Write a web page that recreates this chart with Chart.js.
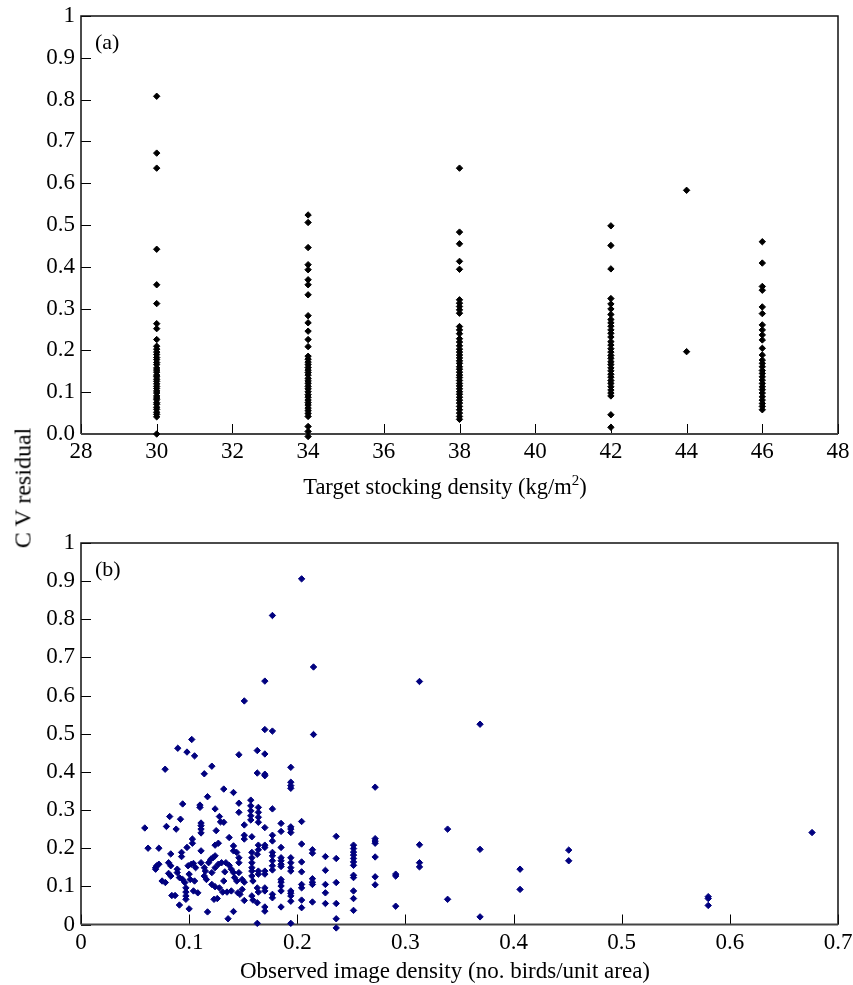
<!DOCTYPE html>
<html><head><meta charset="utf-8">
<script src="https://cdn.jsdelivr.net/npm/chart.js@4"></script>
<style>
html,body{margin:0;padding:0;background:#fff;}
body{width:853px;height:985px;position:relative;overflow:hidden;}
#wa{position:absolute;left:0;top:0;width:853px;height:500px;}
#wb{position:absolute;left:0;top:500px;width:853px;height:485px;}
#ylab{position:absolute;left:23px;top:488px;transform:translate(-50%,-50%) rotate(-90deg);font:24px "Liberation Serif";white-space:nowrap;color:#000;}
</style></head>
<body>
<div id="wa"><canvas id="ca" width="853" height="500"></canvas></div>
<div id="wb"><canvas id="cb" width="853" height="485"></canvas></div>
<div id="ylab">C V residual</div>
<script>
// ---- Panel (a): CV residual by target stocking density ----
const stockingDensities = [30, 34, 38, 42, 44, 46];
const cv30 = [0.808, 0.672, 0.636, 0.442, 0.357, 0.312, 0.264, 0.252, 0.226, 0.21, 0.203, 0.196, 0.19, 0.183, 0.178, 0.171, 0.166, 0.158, 0.153, 0.148, 0.141, 0.137, 0.131, 0.126, 0.12, 0.114, 0.109, 0.103, 0.098, 0.091, 0.086, 0.082, 0.075, 0.071, 0.064, 0.059, 0.052, 0.047, 0.041, 0.0];
const cv34 = [0.524, 0.506, 0.446, 0.405, 0.393, 0.369, 0.357, 0.333, 0.283, 0.266, 0.246, 0.226, 0.209, 0.186, 0.179, 0.172, 0.166, 0.159, 0.153, 0.147, 0.141, 0.133, 0.127, 0.121, 0.114, 0.108, 0.101, 0.094, 0.088, 0.081, 0.075, 0.069, 0.062, 0.056, 0.049, 0.042, 0.018, 0.006, -0.006];
const cv38 = [0.636, 0.483, 0.455, 0.413, 0.394, 0.321, 0.313, 0.305, 0.297, 0.289, 0.257, 0.249, 0.24, 0.228, 0.22, 0.211, 0.203, 0.196, 0.189, 0.182, 0.175, 0.169, 0.161, 0.155, 0.148, 0.141, 0.135, 0.128, 0.121, 0.115, 0.108, 0.101, 0.095, 0.088, 0.081, 0.074, 0.066, 0.058, 0.05, 0.042, 0.035];
const cv42 = [0.498, 0.451, 0.395, 0.324, 0.311, 0.299, 0.286, 0.274, 0.266, 0.258, 0.249, 0.241, 0.232, 0.221, 0.213, 0.204, 0.196, 0.188, 0.181, 0.173, 0.166, 0.158, 0.151, 0.143, 0.136, 0.128, 0.121, 0.113, 0.105, 0.098, 0.091, 0.046, 0.016];
const cv44 = [0.583, 0.197];
const cv46 = [0.46, 0.409, 0.353, 0.344, 0.304, 0.288, 0.261, 0.249, 0.237, 0.225, 0.205, 0.189, 0.177, 0.169, 0.161, 0.152, 0.145, 0.137, 0.129, 0.121, 0.113, 0.106, 0.098, 0.089, 0.081, 0.073, 0.066, 0.058];
const cvByDensity = [cv30, cv34, cv38, cv42, cv44, cv46];
const xTicksA = ['28','30','32','34','36','38','40','42','44','46','48'];
const yTicksA = ['0.0','0.1','0.2','0.3','0.4','0.5','0.6','0.7','0.8','0.9','1'];

// ---- Panel (b): CV residual by observed image density [density, cv] ----
const imageDensityCV = [
[0.204,0.906],[0.177,0.81],[0.215,0.675],[0.170,0.638],[0.151,0.586],[0.170,0.511],[0.177,0.507],[0.215,0.498],
[0.313,0.637],[0.369,0.525],[0.369,0.197],[0.406,0.145],[0.406,0.092],[0.451,0.195],[0.451,0.167],[0.369,0.02],
[0.58,0.073],[0.58,0.068],[0.58,0.05],[0.676,0.241],[0.339,0.25],[0.339,0.066],[0.272,0.36],
[0.313,0.209],[0.313,0.162],[0.313,0.151],[0.291,0.132],[0.291,0.127],[0.291,0.048],
[0.1024,0.485],[0.0895,0.462],[0.098,0.452],[0.105,0.442],[0.146,0.445],[0.163,0.456],[0.170,0.447],
[0.0778,0.407],[0.121,0.415],[0.114,0.395],[0.163,0.397],[0.170,0.394],[0.170,0.39],[0.132,0.355],
[0.141,0.346],[0.117,0.335],[0.094,0.316],[0.082,0.283],[0.092,0.276],[0.079,0.257],[0.088,0.25],
[0.059,0.253],[0.110,0.313],[0.110,0.307],[0.124,0.303],[0.111,0.266],[0.111,0.259],[0.111,0.25],
[0.111,0.24],[0.128,0.283],[0.129,0.269],[0.132,0.268],[0.125,0.246],[0.137,0.228],[0.146,0.318],
[0.146,0.294],[0.157,0.326],[0.157,0.311],[0.157,0.298],[0.157,0.285],[0.157,0.274],[0.151,0.261],
[0.151,0.234],[0.151,0.224],[0.164,0.307],[0.164,0.294],[0.164,0.281],[0.164,0.268],[0.170,0.254],
[0.158,0.230],[0.062,0.2],[0.072,0.2],[0.083,0.185],[0.093,0.189],[0.093,0.178],[0.103,0.224],
[0.103,0.213],[0.111,0.193],[0.098,0.202],[0.124,0.208],[0.127,0.213],[0.141,0.206],[0.141,0.193],
[0.144,0.189],[0.146,0.175],[0.146,0.162],[0.158,0.189],[0.158,0.175],[0.158,0.162],[0.158,0.149],
[0.164,0.208],[0.164,0.196],[0.170,0.208],[0.170,0.202],[0.069,0.149],[0.070,0.154],[0.072,0.158],
[0.069,0.145],[0.075,0.114],[0.078,0.11],[0.081,0.162],[0.083,0.154],[0.081,0.134],[0.083,0.127],
[0.089,0.145],[0.089,0.136],[0.091,0.123],[0.094,0.118],[0.096,0.11],[0.084,0.076],[0.087,0.076],
[0.091,0.051],[0.097,0.096],[0.097,0.085],[0.097,0.075],[0.097,0.066],[0.099,0.154],[0.102,0.158],
[0.104,0.16],[0.106,0.149],[0.1,0.132],[0.101,0.118],[0.105,0.114],[0.104,0.088],[0.108,0.083],
[0.1,0.041],[0.111,0.162],[0.114,0.149],[0.115,0.14],[0.114,0.127],[0.116,0.118],[0.117,0.033],
[0.118,0.162],[0.120,0.171],[0.122,0.175],[0.124,0.18],[0.121,0.136],[0.124,0.149],[0.127,0.158],
[0.130,0.162],[0.121,0.105],[0.124,0.099],[0.128,0.096],[0.123,0.066],[0.126,0.068],[0.132,0.114],
[0.133,0.138],[0.134,0.162],[0.137,0.155],[0.139,0.145],[0.131,0.085],[0.135,0.085],[0.139,0.088],
[0.136,0.015],[0.141,0.034],[0.141,0.136],[0.142,0.123],[0.144,0.114],[0.146,0.136],[0.149,0.118],
[0.151,0.111],[0.145,0.083],[0.147,0.079],[0.149,0.092],[0.151,0.063],[0.158,0.14],[0.158,0.127],
[0.159,0.114],[0.158,0.075],[0.159,0.064],[0.164,0.14],[0.164,0.132],[0.163,0.096],[0.164,0.085],
[0.163,0.057],[0.170,0.14],[0.170,0.132],[0.170,0.096],[0.170,0.088],[0.170,0.046],[0.170,0.035],
[0.163,0.003],[0.163,0.184],
[0.194,0.412],[0.194,0.373],[0.194,0.364],[0.194,0.357],[0.177,0.303],[0.185,0.265],[0.185,0.244],
[0.194,0.256],[0.194,0.25],[0.194,0.241],[0.204,0.27],[0.177,0.234],[0.177,0.219],[0.185,0.202],
[0.177,0.189],[0.177,0.18],[0.177,0.167],[0.177,0.154],[0.177,0.143],[0.185,0.175],[0.185,0.167],
[0.185,0.158],[0.185,0.152],[0.194,0.175],[0.194,0.162],[0.194,0.149],[0.194,0.14],[0.204,0.211],
[0.204,0.164],[0.204,0.138],[0.214,0.196],[0.214,0.187],[0.214,0.12],[0.214,0.111],[0.214,0.105],
[0.204,0.105],[0.204,0.096],[0.226,0.178],[0.226,0.142],[0.226,0.105],[0.226,0.083],[0.226,0.055],
[0.236,0.231],[0.236,0.173],[0.236,0.11],[0.236,0.055],[0.236,0.015],[0.236,-0.009],
[0.252,0.208],[0.252,0.199],[0.252,0.19],[0.252,0.182],[0.252,0.173],[0.252,0.164],[0.252,0.155],
[0.252,0.129],[0.252,0.123],[0.252,0.088],[0.252,0.068],[0.252,0.037],
[0.272,0.225],[0.272,0.219],[0.272,0.213],[0.272,0.177],[0.272,0.125],[0.272,0.104],
[0.185,0.118],[0.185,0.111],[0.185,0.101],[0.185,0.088],[0.185,0.046],[0.177,0.079],[0.177,0.07],
[0.194,0.088],[0.194,0.082],[0.194,0.075],[0.194,0.061],[0.194,0.003],[0.204,0.064],[0.204,0.044],
[0.214,0.059]
];
const xTicksB = ['0','0.1','0.2','0.3','0.4','0.5','0.6','0.7'];
const yTicksB = ['0','0.1','0.2','0.3','0.4','0.5','0.6','0.7','0.8','0.9','1'];

const SERIF = '"Liberation Serif", "Times New Roman", serif';

const framePlugin = {
  id: 'frame',
  beforeDatasetsDraw(chart, args, opts) {
    const {ctx, chartArea: a, scales: {x, y}} = chart;
    ctx.save();
    ctx.strokeStyle = '#000';
    ctx.lineWidth = 1;
    x.ticks.forEach(t => {
      const px = Math.round(x.getPixelForValue(t.value)) + 0.5;
      ctx.beginPath(); ctx.moveTo(px, a.bottom); ctx.lineTo(px, a.bottom - 10); ctx.stroke();
    });
    y.ticks.forEach(t => {
      const py = Math.round(y.getPixelForValue(t.value)) + 0.5;
      ctx.beginPath(); ctx.moveTo(a.left, py); ctx.lineTo(a.left + 10, py); ctx.stroke();
    });
    ctx.lineWidth = 1.5;
    ctx.strokeStyle = '#111';
    ctx.beginPath();
    ctx.moveTo(a.left, a.bottom); ctx.lineTo(a.left, a.top); ctx.lineTo(a.right, a.top); ctx.lineTo(a.right, a.bottom);
    ctx.stroke();
    ctx.lineWidth = 2;
    ctx.strokeStyle = '#444';
    ctx.beginPath(); ctx.moveTo(a.left, a.bottom); ctx.lineTo(a.right, a.bottom); ctx.stroke();
    // panel label
    ctx.font = '22px ' + SERIF;
    ctx.fillStyle = '#000';
    ctx.textBaseline = 'middle';
    ctx.textAlign = 'left';
    ctx.fillText(opts.label, a.left + 14, a.top + 27);
    // axis title (with optional superscript part)
    const mainFont = opts.titleSize + 'px ' + SERIF, supFont = '15px ' + SERIF;
    let total = 0;
    opts.title.forEach(p => { ctx.font = p.sup ? supFont : mainFont; total += ctx.measureText(p.t).width; });
    let cx = opts.titleX - total / 2;
    ctx.textBaseline = 'alphabetic';
    opts.title.forEach(p => {
      ctx.font = p.sup ? supFont : mainFont;
      ctx.fillText(p.t, cx, opts.titleBase - (p.sup ? 9 : 0));
      cx += ctx.measureText(p.t).width;
    });
    ctx.restore();
  }
};

function makeOptions(xmin, xmax, xstep, xLabels, yLabels, title, titleSize, titleBase, xHeight, xPad, panel, padTop) {
  return {
    responsive: false,
    animation: false,
    devicePixelRatio: 1,
    layout: {padding: {left: 0, right: 15, top: padTop, bottom: 0}},
    plugins: {legend: {display: false}, tooltip: {enabled: false},
              frame: {label: panel, title: title, titleSize: titleSize, titleX: 445, titleBase: titleBase}},
    scales: {
      x: {
        type: 'linear', min: xmin, max: xmax,
        grid: {display: false, drawTicks: false},
        border: {display: false},
        ticks: {stepSize: xstep, padding: xPad, color: '#000', font: {family: SERIF, size: 23},
                maxRotation: 0, autoSkip: false, callback: (v, i) => xLabels[i]},
        afterFit: s => { s.height = xHeight; s.paddingLeft = 0; s.paddingRight = 0; }
      },
      y: {
        type: 'linear', min: 0, max: 1,
        grid: {display: false, drawTicks: false},
        border: {display: false},
        ticks: {stepSize: 0.1, padding: 6, color: '#000', font: {family: SERIF, size: 23},
                autoSkip: false, callback: (v, i) => yLabels[i]},
        afterFit: s => { s.width = 81; s.paddingTop = 0; s.paddingBottom = 0; }
      }
    }
  };
}

const pointsA = [];
stockingDensities.forEach((d, k) => cvByDensity[k].forEach(v => pointsA.push({x: d, y: v})));

new Chart(document.getElementById('ca'), {
  type: 'scatter',
  data: {datasets: [{data: pointsA, pointStyle: 'rectRot', pointRadius: 3.2, borderWidth: 1,
    backgroundColor: '#000', borderColor: '#000', clip: false}]},
  options: makeOptions(28, 48, 2, xTicksA, yTicksA,
    [{t: 'Target stocking density (kg/m'}, {t: '2', sup: true}, {t: ')'}], 22.5, 494, 66, 4, '(a)', 16),
  plugins: [framePlugin]
});

new Chart(document.getElementById('cb'), {
  type: 'scatter',
  data: {datasets: [{data: imageDensityCV.map(p => ({x: p[0], y: p[1]})), pointStyle: 'rectRot', pointRadius: 3.2,
    borderWidth: 1, backgroundColor: '#00007f', borderColor: '#00007f', clip: false}]},
  options: makeOptions(0, 0.7, 0.1, xTicksB, yTicksB,
    [{t: 'Observed image density (no. birds/unit area)'}], 23, 478, 60.5, 5, '(b)', 43),
  plugins: [framePlugin]
});
</script>
</body></html>
